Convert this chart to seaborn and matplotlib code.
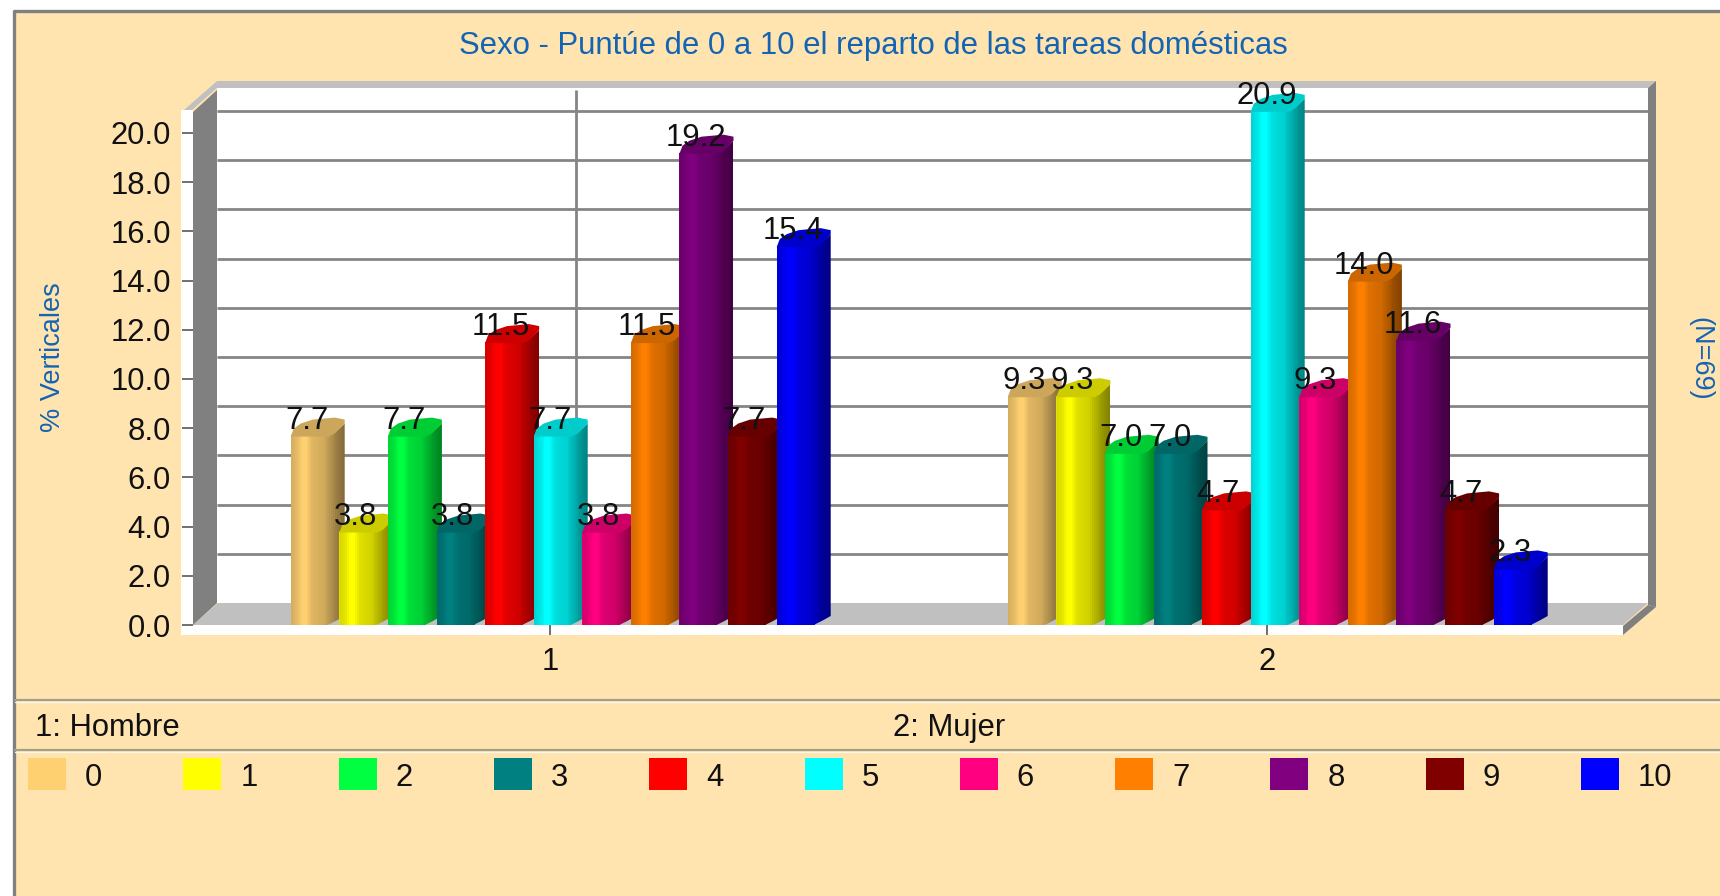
import numpy as np
import pandas as pd
import matplotlib
matplotlib.use("Agg")
import matplotlib.pyplot as plt
from matplotlib.patches import Polygon, Rectangle
import seaborn as sns

# ---- data ----
sexo = ["1", "2"]
puntuacion = ["0", "1", "2", "3", "4", "5", "6", "7", "8", "9", "10"]
hombre = [7.7, 3.8, 7.7, 3.8, 11.5, 7.7, 3.8, 11.5, 19.2, 7.7, 15.4]
mujer = [9.3, 9.3, 7.0, 7.0, 4.7, 20.9, 9.3, 14.0, 11.6, 4.7, 2.3]
colores = ["#FFD070", "#FFFF00", "#00FF40", "#008080", "#FF0000", "#00FFFF",
           "#FF0080", "#FF8000", "#800080", "#800000", "#0000FF"]
yticks = list(range(0, 21, 2))
titulo = "Sexo - Puntúe de 0 a 10 el reparto de las tareas domésticas"

df = pd.DataFrame({
    "sexo": [s for s in sexo for _ in puntuacion],
    "punt": puntuacion * 2,
    "pct": hombre + mujer,
})

# ---- style ----
sns.set_theme(style="white")
plt.rcParams["font.family"] = ["Liberation Sans", "DejaVu Sans"]
W, H = 1720, 896
BG = "#FFE4B0"
BLUE = "#1464B4"
DARK = "#808080"
LIGHT = "#C0C0C0"
FS = 22.3
FS_SIDE = 19.5

fig = plt.figure(figsize=(W / 100, H / 100), dpi=100, facecolor="white")

# chrome layer in pixel coordinates
bg = fig.add_axes([0, 0, 1, 1], zorder=0)
bg.set_xlim(0, W)
bg.set_ylim(H, 0)
bg.axis("off")


def rect(x0, y0, x1, y1, c, z=1):
    bg.add_patch(Rectangle((x0, y0), x1 - x0, y1 - y0, fc=c, ec="none", zorder=z))


def poly(pts, c, z=2):
    bg.add_patch(Polygon(pts, closed=True, fc=c, ec="none", zorder=z))


rect(15, 13, W, H, BG)
bg.plot([14, 14, W], [H, 11, 11], color=DARK, lw=2.4, zorder=3, solid_capstyle="butt")
for yy in (700, 750):
    bg.plot([15, W], [yy, yy], color="#A0A090", lw=1.6, zorder=3)
    bg.plot([15, W], [yy + 2, yy + 2], color="#FFF6E0", lw=1, zorder=3)

Y0, UNIT, DY = 625, 24.6, 22
# white front strip, back wall
rect(181, 110, 193, 635, "white")
rect(181, 625, 1623, 635, "white")
rect(217, 87, 1648, 603, "white")
# floor / walls
poly([(193, 625), (218, 603), (1648, 603), (1623, 625)], LIGHT)
poly([(193, 112), (217, 90), (217, 603), (193, 625)], DARK)
poly([(184, 110), (217, 81), (1656, 81), (1648, 88), (217, 88), (192, 110)], LIGHT)
poly([(1648, 88), (1656, 81), (1656, 607), (1648, 605)], DARK)
poly([(1623, 626), (1648, 605), (1656, 607), (1623, 635)], DARK)
for t in yticks[1:]:
    yy = Y0 - DY - t * UNIT
    bg.plot([217, 1648], [yy, yy], color="#858585", lw=2, zorder=2.5, solid_capstyle="butt")
for xx in (576, 1293):
    bg.plot([xx, xx], [90, 603], color="#858585", lw=2, zorder=2.5, solid_capstyle="butt")

# ---- main axes: seaborn bars ----
AL, AR, AT = 193, 1623, 80
TICK1, TICK2 = 550, 1267
SLOT = TICK2 - TICK1
ax = fig.add_axes([AL / W, 1 - Y0 / H, (AR - AL) / W, (Y0 - AT) / H], zorder=1)
ax.patch.set_alpha(0)
sns.barplot(data=df, x="sexo", y="pct", hue="punt", hue_order=puntuacion,
            palette=colores, width=0.7456, gap=0, errorbar=None, ax=ax,
            legend=False, saturation=1, order=sexo)
ax.set_xlim((AL - TICK1) / SLOT, (AR - TICK1) / SLOT)
ax.set_ylim(0, (Y0 - AT) / UNIT)
for s in ax.spines.values():
    s.set_visible(False)
ax.set_xlabel("")
ax.set_ylabel("")
ax.set_yticks(yticks)
ax.set_yticklabels([f"{t:.1f}" for t in yticks], fontsize=FS, color="#111111")
ax.set_xticks([0, 1])
ax.set_xticklabels(sexo, fontsize=FS, color="#111111")
ax.tick_params(axis="y", length=8, width=1.4, color="#707070", pad=8, left=True)
ax.tick_params(axis="x", length=7.5, width=1.4, color="#707070", pad=8, bottom=True)


def X(px):
    return (px - TICK1) / SLOT


def Y(py):
    return (Y0 - py) / UNIT


stops_t = [0, .10, .20, .28, .38, .45, .62, .70, .78, .86, 1]
stops_v = [.84, .90, 1.0, 1.0, .88, .86, .82, .74, .68, .60, .52]
OFFSET = 8

bars = [p for p in ax.patches if p.get_height() > 0]
bars.sort(key=lambda p: p.get_x())
for n, p in enumerate(bars):
    rgb = np.array(matplotlib.colors.to_rgb(p.get_facecolor()))
    x0 = TICK1 + p.get_x() * SLOT + OFFSET
    top = Y0 - p.get_height() * UNIT
    z = 3 + n * 0.01
    p.set_x(X(x0))
    p.set_width(38 / SLOT)
    p.set_zorder(z)
    p.set_edgecolor("none")
    p.set_linewidth(0)
    # cylindrical shading across the bar, clipped to its outline
    body = [(0, Y0), (37, Y0), (45, Y0 - 4), (54, Y0 - 9),
            (54, top - 12), (44, top - 3), (38, top), (0, top)]
    body = Polygon([(X(x0 + a), Y(b)) for a, b in body], closed=True, fc="none", ec="none", zorder=z)
    ax.add_patch(body)
    ramp = np.interp(np.linspace(0, 1, 27), stops_t, stops_v)
    img = (ramp[:, None] * rgb)[None, :, :]
    im = ax.imshow(img, extent=(X(x0), X(x0 + 54), 0, Y(top - 12)), aspect="auto",
                   interpolation="nearest", zorder=z, origin="lower")
    im.set_clip_path(body)
    cap = [(0, 1), (3, -7), (10, -12), (22, -16), (44, -18), (54, -16), (54, -12), (44, -2), (38, 1)]
    ax.add_patch(Polygon([(X(x0 + a), Y(top + b)) for a, b in cap], closed=True,
                         fc=rgb * .8, ec="none", lw=0, zorder=z + .001))
    ax.text(X(x0 + 16), p.get_height() + 15 / UNIT, f"{p.get_height():.1f}", ha="center",
            va="center", fontsize=FS, color="#111111", zorder=10, clip_on=False)
ax.set_xlim((AL - TICK1) / SLOT, (AR - TICK1) / SLOT)
ax.set_ylim(0, (Y0 - AT) / UNIT)

# ---- texts ----
bg.text(873, 46, titulo, ha="center", va="center", fontsize=22.4, color=BLUE, zorder=5)
bg.text(53, 357, "% Verticales", ha="center", va="center", rotation=90, fontsize=FS_SIDE, color=BLUE, zorder=5)
bg.text(1700, 359, "(N=69)", ha="center", va="center", rotation=270, fontsize=FS_SIDE, color=BLUE, zorder=5)
bg.text(35, 728, "1: Hombre", ha="left", va="center", fontsize=FS, color="#111111", zorder=5)
bg.text(893, 728, "2: Mujer", ha="left", va="center", fontsize=FS, color="#111111", zorder=5)
for i, (lab, c) in enumerate(zip(puntuacion, colores)):
    sx = 28 + 155.3 * i
    rect(sx, 758, sx + 38, 790, c, z=4)
    bg.text(sx + 57, 778, lab, ha="left", va="center", fontsize=FS, color="#111111", zorder=5)

fig.savefig("out.png", dpi=100, facecolor="white")
